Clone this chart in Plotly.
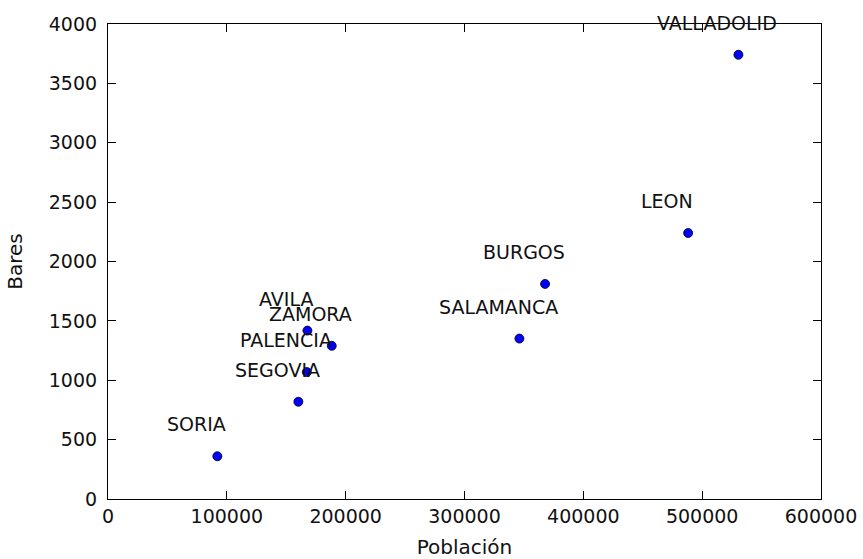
import plotly.graph_objects as go

provincias = ["SORIA", "SEGOVIA", "PALENCIA", "AVILA", "ZAMORA",
              "SALAMANCA", "BURGOS", "LEON", "VALLADOLID"]
poblacion = [92000, 160200, 167300, 167800, 188300, 346200, 367800, 488200, 530500]
bares = [360, 819, 1069, 1418, 1290, 1351, 1811, 2240, 3741]

x_ticks = [0, 100000, 200000, 300000, 400000, 500000, 600000]
y_ticks = [0, 500, 1000, 1500, 2000, 2500, 3000, 3500, 4000]

FONT = "DejaVu Sans"
FS = 19

fig = go.Figure()
fig.add_trace(go.Scatter(
    x=poblacion, y=bares, mode="markers",
    marker=dict(color="#0000ff", size=9, line=dict(color="black", width=0.8)),
    showlegend=False, cliponaxis=False,
))

for name, xv, yv in zip(provincias, poblacion, bares):
    fig.add_annotation(x=xv, y=yv, text=name, showarrow=False,
                       xanchor="center", yanchor="middle",
                       xshift=-21, yshift=32,
                       font=dict(family=FONT, size=FS, color="#111111"))

axis_common = dict(
    showgrid=False, zeroline=False, showline=True, linecolor="black",
    linewidth=1.2, mirror="allticks", ticks="inside", ticklen=8,
    tickwidth=1, tickcolor="black",
    tickfont=dict(family=FONT, size=FS, color="#111111"),
)

fig.update_xaxes(range=[0, 600000], tickvals=x_ticks,
                 ticktext=[str(v) for v in x_ticks],
                 title=dict(text="Población", font=dict(family=FONT, size=FS + 1, color="#111111"),
                            standoff=15),
                 **axis_common)
fig.update_yaxes(range=[0, 4000], tickvals=y_ticks,
                 ticktext=[str(v) for v in y_ticks],
                 ticklabelstandoff=6,
                 title=dict(text="Bares", font=dict(family=FONT, size=FS + 1, color="#111111"),
                            standoff=20),
                 **axis_common)

fig.update_layout(
    width=863, height=559,
    margin=dict(l=108, r=42, t=24, b=60, autoexpand=False),
    paper_bgcolor="white", plot_bgcolor="white",
    font=dict(family=FONT, size=FS, color="#111111"),
)

fig.write_html("out.html")
